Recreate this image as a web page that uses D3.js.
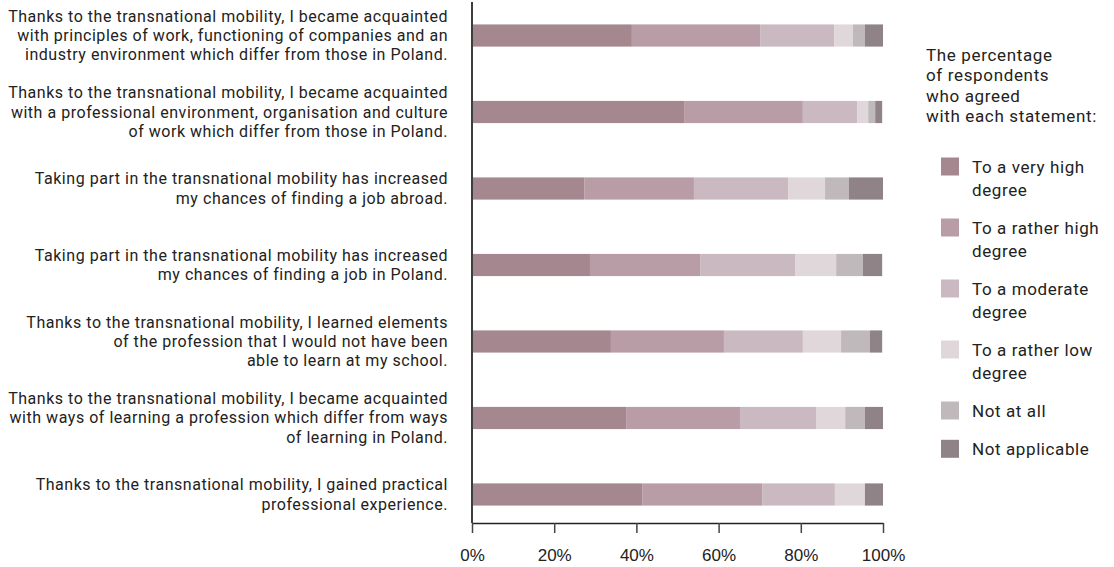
<!DOCTYPE html>
<html>
<head>
<meta charset="utf-8">
<script src="https://cdn.jsdelivr.net/npm/d3@7"></script>
<style>
  html, body { margin: 0; padding: 0; background: #ffffff; }
  svg { display: block; }
</style>
</head>
<body>
<svg id="chart" width="1114" height="567"></svg>
<script>
// ---- data ----
const statements = [
  ["Thanks to the transnational mobility, I became acquainted", "with principles of work, functioning of companies and an", "industry environment which differ from those in Poland."],
  ["Thanks to the transnational mobility, I became acquainted", "with a professional environment, organisation and culture", "of work which differ from those in Poland."],
  ["Taking part in the transnational mobility has increased", "my chances of finding a job abroad."],
  ["Taking part in the transnational mobility has increased", "my chances of finding a job in Poland."],
  ["Thanks to the transnational mobility, I learned elements", "of the profession that I would not have been", "able to learn at my school."],
  ["Thanks to the transnational mobility, I became acquainted", "with ways of learning a profession which differ from ways", "of learning in Poland."],
  ["Thanks to the transnational mobility, I gained practical", "professional experience."]
];
const seriesNames = ["To a very high degree", "To a rather high degree", "To a moderate degree", "To a rather low degree", "Not at all", "Not applicable"];
const legendLines = [["To a very high", "degree"], ["To a rather high", "degree"], ["To a moderate", "degree"], ["To a rather low", "degree"], ["Not at all"], ["Not applicable"]];
const veryHigh   = [38.9, 51.6, 27.3, 28.7, 33.8, 37.5, 41.4];
const ratherHigh = [31.2, 28.9, 26.7, 26.8, 27.5, 27.7, 29.2];
const moderate   = [18.0, 13.2, 22.9, 23.1, 19.2, 18.5, 17.7];
const ratherLow  = [4.6, 2.7, 9.0, 10.0, 9.3, 7.1, 7.3];
const notAtAll   = [2.9, 1.7, 5.8, 6.5, 7.0, 4.8, 0.0];
const notApplic  = [4.4, 1.7, 8.3, 4.7, 3.0, 4.4, 4.4];
const xTicks = [0, 20, 40, 60, 80, 100];
const legendTitle = ["The percentage", "of respondents", "who agreed", "with each statement:"];
const colors = ["#a5878f", "#b89da7", "#cab9c1", "#e0d7db", "#c0b9bb", "#8f8388"];

// ---- build table ----
const seriesArrays = [veryHigh, ratherHigh, moderate, ratherLow, notAtAll, notApplic];
const rows = statements.map((s, i) => {
  const r = { id: i };
  seriesNames.forEach((n, k) => r[n] = seriesArrays[k][i]);
  return r;
});
const stacked = d3.stack().keys(seriesNames)(rows);

const svg = d3.select("#chart");
const left = 472, plotW = 411, axisY = 523;
const font = "Roboto, 'Open Sans', sans-serif";

const x = d3.scaleLinear().domain([0, 100]).range([left, left + plotW]);
const y = d3.scaleBand().domain(rows.map(r => r.id)).range([3, 527]).paddingInner(0.71).paddingOuter(0.28);
const color = d3.scaleOrdinal().domain(seriesNames).range(colors);

// bars
svg.append("g").selectAll("g").data(stacked).join("g")
  .attr("fill", d => color(d.key))
  .selectAll("rect").data(d => d).join("rect")
  .attr("x", d => x(d[0]))
  .attr("width", d => Math.max(0, x(d[1]) - x(d[0])))
  .attr("y", (d, i) => y(i))
  .attr("height", y.bandwidth());

// vertical axis line
svg.append("line")
  .attr("x1", left).attr("x2", left).attr("y1", 2).attr("y2", axisY)
  .attr("stroke", "#3d3d3d").attr("stroke-width", 2);

// x axis
const xAxis = svg.append("g")
  .attr("transform", `translate(0,${axisY})`)
  .call(d3.axisBottom(x).tickValues(xTicks).tickFormat(d => d + "%").tickSize(10).tickSizeOuter(0));
xAxis.select(".domain").attr("stroke", "#222").attr("stroke-width", 1.5);
xAxis.selectAll(".tick line").attr("stroke", "#444").attr("stroke-width", 1.5);
xAxis.selectAll(".tick text")
  .attr("font-family", "'Liberation Sans', Arial, sans-serif")
  .attr("font-size", 17).attr("fill", "#222").attr("dy", "1.45em");

// category labels
const lineH = 19.2;
statements.forEach((lines, i) => {
  const cy = y(i) + y.bandwidth() / 2;
  const t = svg.append("text")
    .attr("text-anchor", "end")
    .attr("font-family", font).attr("font-size", 16).attr("letter-spacing", 0.53).attr("fill", "#222");
  lines.forEach((ln, j) => {
    t.append("tspan")
      .attr("x", 448)
      .attr("y", cy + (j - (lines.length - 1) / 2) * lineH + 5.5)
      .text(ln);
  });
});

// legend title
const lt = svg.append("text").attr("font-family", font).attr("font-size", 17).attr("letter-spacing", 0.65).attr("fill", "#222");
legendTitle.forEach((ln, j) => {
  lt.append("tspan").attr("x", 926).attr("y", 61 + j * 20.3).text(ln);
});

// legend items
let ly = 157.5;
legendLines.forEach((lines, i) => {
  const g = svg.append("g");
  g.append("rect").attr("x", 941).attr("y", ly).attr("width", 18).attr("height", 18).attr("fill", colors[i]);
  const t = g.append("text").attr("font-family", font).attr("font-size", 17).attr("letter-spacing", 0.6).attr("fill", "#222");
  lines.forEach((ln, j) => {
    t.append("tspan").attr("x", 972).attr("y", ly + 15 + j * 23).text(ln);
  });
  ly += lines.length === 2 ? 61 : 38.3;
});
</script>
</body>
</html>
